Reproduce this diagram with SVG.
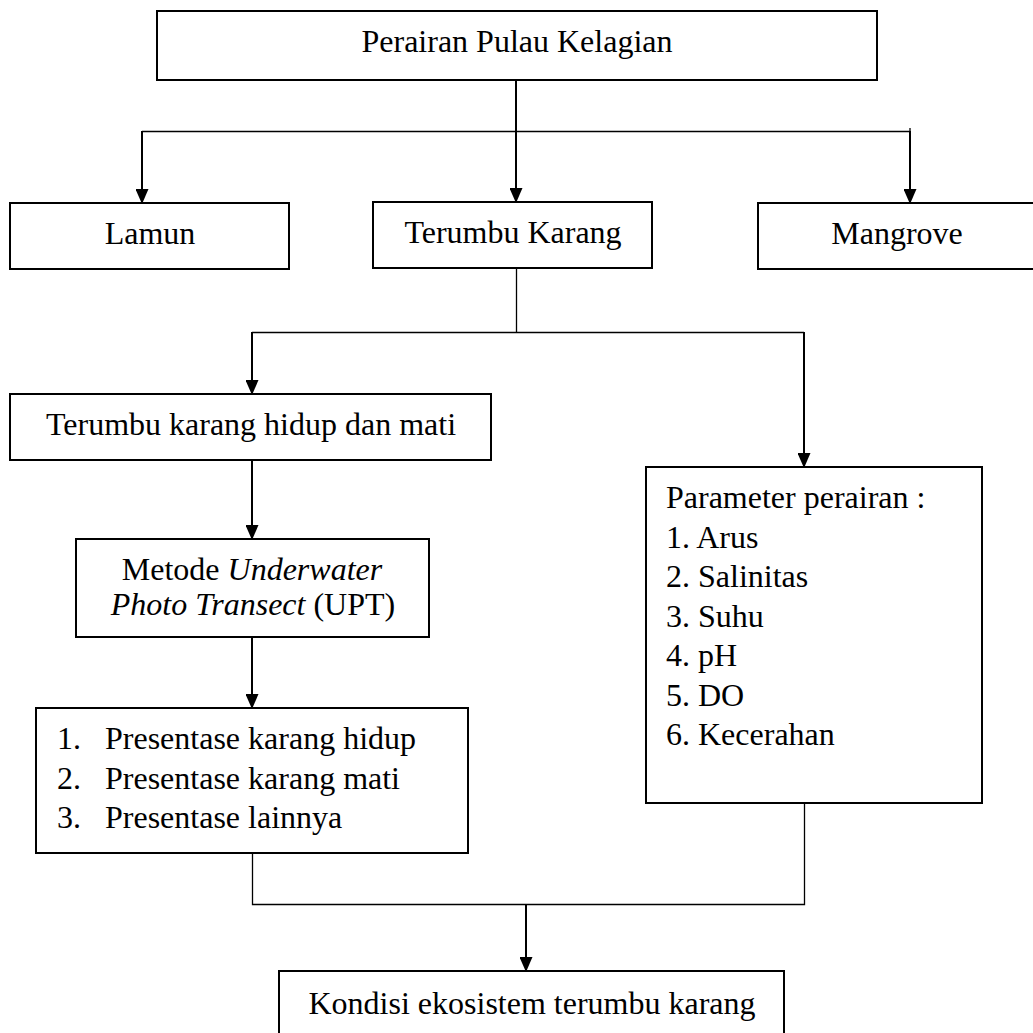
<svg xmlns="http://www.w3.org/2000/svg" width="1033" height="1033" viewBox="0 0 1033 1033">
  <style>
    .box { fill: #ffffff; stroke: #000000; stroke-width: 2; }
    .t { font-family: "Liberation Serif", "Times New Roman", serif; font-size: 32px; fill: #000000; }
    .c { text-anchor: middle; }
    .arrow { fill: none; stroke: #000000; stroke-width: 2; marker-end: url(#ah); }
    .thin { fill: none; stroke: #000000; stroke-width: 1.3; }
  </style>
  <defs>
    <marker id="ah" viewBox="0 0 15 13" refX="13" refY="6.5" markerWidth="15" markerHeight="13" markerUnits="userSpaceOnUse" orient="auto">
      <path d="M0,0 L15,6.5 L0,13 Z" fill="#000000"/>
    </marker>
  </defs>
  <rect width="1033" height="1033" fill="#ffffff"/>

  <g id="connectors">
    <!-- top tier -->
    <polyline class="thin" points="142,131.5 910,131.5"/>
    <line class="thin" x1="910" y1="128" x2="910" y2="131.5"/>
    <line class="arrow" x1="516" y1="80" x2="516" y2="201"/>
    <line class="arrow" x1="142" y1="131" x2="142" y2="202"/>
    <line class="arrow" x1="910" y1="131" x2="910" y2="202"/>
    <!-- second tier -->
    <line class="thin" x1="516.5" y1="268" x2="516.5" y2="332.5"/>
    <line class="thin" x1="252" y1="332.5" x2="804" y2="332.5"/>
    <line class="arrow" x1="252" y1="332" x2="252" y2="393"/>
    <line class="arrow" x1="804" y1="332" x2="804" y2="466"/>
    <!-- left chain -->
    <line class="arrow" x1="252" y1="460" x2="252" y2="538"/>
    <line class="arrow" x1="252" y1="637" x2="252" y2="707"/>
    <!-- merge -->
    <polyline class="thin" points="252.5,853 252.5,904.5 804.5,904.5 804.5,803"/>
    <line class="arrow" x1="526" y1="904" x2="526" y2="970"/>
  </g>

  <g id="node-perairan">
    <rect class="box" x="157" y="11" width="720" height="69"/>
    <text class="t c" x="517" y="52">Perairan Pulau Kelagian</text>
  </g>

  <g id="node-lamun">
    <rect class="box" x="10" y="203" width="279" height="66"/>
    <text class="t c" x="150" y="244">Lamun</text>
  </g>

  <g id="node-terumbu-karang">
    <rect class="box" x="373" y="202" width="279" height="66"/>
    <text class="t c" x="513" y="243">Terumbu Karang</text>
  </g>

  <g id="node-mangrove">
    <rect class="box" x="758" y="203" width="290" height="66"/>
    <text class="t c" x="897" y="244">Mangrove</text>
  </g>

  <g id="node-hidup-mati">
    <rect class="box" x="10" y="394" width="481" height="66"/>
    <text class="t c" x="251" y="435">Terumbu karang hidup dan mati</text>
  </g>

  <g id="node-metode">
    <rect class="box" x="76" y="539" width="353" height="98"/>
    <text class="t c" x="252" y="580">Metode <tspan font-style="italic">Underwater</tspan></text>
    <text class="t c" x="253" y="615"><tspan font-style="italic">Photo Transect</tspan> (UPT)</text>
  </g>

  <g id="node-presentase">
    <rect class="box" x="36" y="708" width="432" height="145"/>
    <text class="t" x="57" y="749">1.</text>
    <text class="t" x="105" y="749">Presentase karang hidup</text>
    <text class="t" x="57" y="789">2.</text>
    <text class="t" x="105" y="789">Presentase karang mati</text>
    <text class="t" x="57" y="828">3.</text>
    <text class="t" x="105" y="828">Presentase lainnya</text>
  </g>

  <g id="node-parameter">
    <rect class="box" x="646" y="467" width="336" height="336"/>
    <text class="t" x="666" y="508">Parameter perairan :</text>
    <text class="t" x="666" y="548">1. Arus</text>
    <text class="t" x="666" y="587">2. Salinitas</text>
    <text class="t" x="666" y="627">3. Suhu</text>
    <text class="t" x="666" y="666">4. pH</text>
    <text class="t" x="666" y="706">5. DO</text>
    <text class="t" x="666" y="745">6. Kecerahan</text>
  </g>

  <g id="node-kondisi">
    <rect class="box" x="279" y="971" width="505" height="80"/>
    <text class="t c" x="532" y="1014">Kondisi ekosistem terumbu karang</text>
  </g>
</svg>
